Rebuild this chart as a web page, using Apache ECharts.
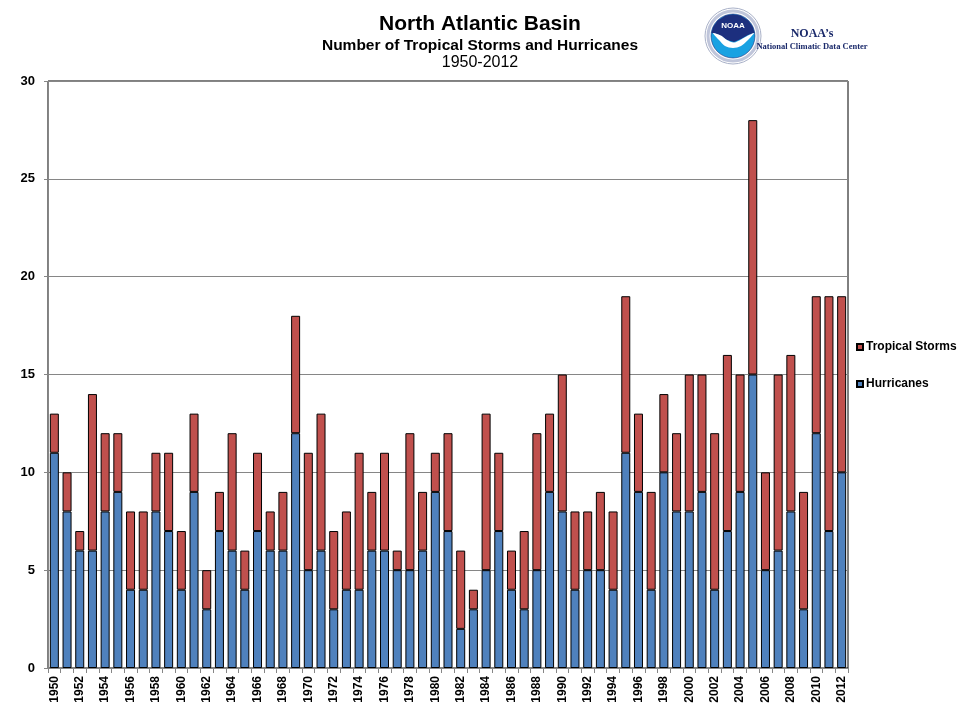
<!DOCTYPE html>
<html>
<head>
<meta charset="utf-8">
<title>North Atlantic Basin - Tropical Storms and Hurricanes</title>
<script src="https://cdn.jsdelivr.net/npm/echarts@6/dist/echarts.min.js"></script>
<style>
  html, body { margin: 0; padding: 0; background: #fff; }
  #chart { width: 960px; height: 720px; }
</style>
</head>
<body>
<div id="chart"></div>
<script>
// years on the x axis
var years = [
  '1950','1951','1952','1953','1954','1955','1956','1957','1958','1959',
  '1960','1961','1962','1963','1964','1965','1966','1967','1968','1969',
  '1970','1971','1972','1973','1974','1975','1976','1977','1978','1979',
  '1980','1981','1982','1983','1984','1985','1986','1987','1988','1989',
  '1990','1991','1992','1993','1994','1995','1996','1997','1998','1999',
  '2000','2001','2002','2003','2004','2005','2006','2007','2008','2009',
  '2010','2011','2012'
];

// blue segment (bottom of stack)
var hurricanes = [
  11, 8, 6, 6, 8, 9, 4, 4, 8, 7,
  4, 9, 3, 7, 6, 4, 7, 6, 6, 12,
  5, 6, 3, 4, 4, 6, 6, 5, 5, 6,
  9, 7, 2, 3, 5, 7, 4, 3, 5, 9,
  8, 4, 5, 5, 4, 11, 9, 4, 10, 8,
  8, 9, 4, 7, 9, 15, 5, 6, 8, 3,
  12, 7, 10
];

// red segment (stacked on top of hurricanes)
var tropicalStorms = [
  2, 2, 1, 8, 4, 3, 4, 4, 3, 4,
  3, 4, 2, 2, 6, 2, 4, 2, 3, 6,
  6, 7, 4, 4, 7, 3, 5, 1, 7, 3,
  2, 5, 4, 1, 8, 4, 2, 4, 7, 4,
  7, 4, 3, 4, 4, 8, 4, 5, 4, 4,
  7, 6, 8, 9, 6, 13, 5, 9, 8, 6,
  7, 12, 9
];

var yTicks = { min: 0, max: 30, interval: 5 };

var FONT = "'Liberation Sans', Arial, sans-serif";
var SERIF = "'Liberation Serif', 'Times New Roman', serif";
var AXIS_GRAY = '#868686';

// rough NOAA emblem, just decoration next to the title
function noaaLogo() {
  return {
    type: 'group',
    x: 733,
    y: 36,
    children: [
      { type: 'circle', shape: { r: 28 }, style: { fill: '#fff', stroke: '#a9b1c8', lineWidth: 1 } },
      { type: 'circle', shape: { r: 25 }, style: { fill: 'none', stroke: '#8b96bb', lineWidth: 3, opacity: 0.55 } },
      { type: 'circle', shape: { r: 22 }, style: { fill: '#19a2e2', stroke: '#1c2f7e', lineWidth: 0.6 } },
      {
        type: 'polygon',
        shape: {
          points: [
            [-21.6, -3], [-19.8, -9.2], [-15.4, -15.4], [-7.5, -20.5], [0, -21.8],
            [7.5, -20.5], [15.4, -15.4], [19.8, -9.2], [21.6, -3],
            [15, -1], [8, 3], [1, 6], [-6, 4], [-12, 0], [-17, -2]
          ]
        },
        style: { fill: '#1c2f7e' }
      },
      {
        type: 'polygon',
        shape: {
          points: [
            [-20, -3], [-12, -0.5], [-6, 4], [1, 6.5], [8, 3.5], [15, -0.5], [21, -3],
            [15, 4], [8, 10], [0, 12], [-8, 10], [-14, 4]
          ],
          smooth: 0.3
        },
        style: { fill: '#fff' }
      },
      {
        type: 'text',
        x: 0,
        y: -10,
        style: { text: 'NOAA', fill: '#fff', font: 'bold 8px ' + FONT, align: 'center', verticalAlign: 'middle' }
      }
    ]
  };
}

var chart = echarts.init(document.getElementById('chart'));

chart.setOption({
  backgroundColor: '#fff',
  animation: false,
  title: [
    {
      text: 'North Atlantic Basin',
      left: 'center',
      top: 9,
      textStyle: { fontFamily: FONT, fontSize: 21, fontWeight: 'bold', color: '#000' }
    },
    {
      text: 'Number of Tropical Storms and Hurricanes',
      left: 'center',
      top: 33,
      textStyle: { fontFamily: FONT, fontSize: 15.5, fontWeight: 'bold', color: '#000' }
    },
    {
      text: '1950-2012',
      left: 'center',
      top: 50,
      textStyle: { fontFamily: FONT, fontSize: 16, fontWeight: 'normal', color: '#000' }
    }
  ],
  legend: {
    orient: 'vertical',
    left: 851,
    top: 336,
    itemGap: 25,
    itemWidth: 6,
    itemHeight: 6,
    icon: 'rect',
    data: ['Tropical Storms', 'Hurricanes'],
    textStyle: { fontFamily: FONT, fontSize: 12, fontWeight: 'bold', color: '#000', padding: [0, 0, 0, -2] }
  },
  grid: {
    left: 48,
    right: 112,
    top: 81,
    bottom: 52,
    show: true,
    borderColor: '#000',
    borderWidth: 1
  },
  xAxis: {
    type: 'category',
    data: years,
    axisLine: { lineStyle: { color: AXIS_GRAY, width: 1 } },
    axisTick: { show: true, interval: 0, length: 5, lineStyle: { color: AXIS_GRAY } },
    axisLabel: {
      interval: 1,
      rotate: 90,
      margin: 8,
      fontFamily: FONT,
      fontSize: 12,
      fontWeight: 'bold',
      color: '#000'
    },
    splitLine: { show: false }
  },
  yAxis: {
    type: 'value',
    min: yTicks.min,
    max: yTicks.max,
    interval: yTicks.interval,
    axisLine: { show: true, lineStyle: { color: AXIS_GRAY, width: 1 } },
    axisTick: { show: true, length: 4, lineStyle: { color: AXIS_GRAY } },
    axisLabel: { margin: 13, fontFamily: FONT, fontSize: 13, fontWeight: 'bold', color: '#000' },
    splitLine: { show: true, lineStyle: { color: AXIS_GRAY, width: 1 } }
  },
  series: [
    {
      name: 'Hurricanes',
      type: 'bar',
      stack: 'storms',
      barWidth: 9,
      data: hurricanes,
      itemStyle: { color: '#4F81BD', borderColor: '#000', borderWidth: 1 }
    },
    {
      name: 'Tropical Storms',
      type: 'bar',
      stack: 'storms',
      barWidth: 9,
      data: tropicalStorms,
      itemStyle: { color: '#C0504D', borderColor: '#000', borderWidth: 1 }
    }
  ],
  graphic: [
    noaaLogo(),
    {
      type: 'text',
      x: 812,
      y: 34,
      style: { text: 'NOAA\u2019s', fill: '#1b2a6b', font: 'bold 12px ' + SERIF, align: 'center', verticalAlign: 'middle' }
    },
    {
      type: 'text',
      x: 812,
      y: 47,
      style: { text: 'National Climatic Data Center', fill: '#1b2a6b', font: 'bold 8.5px ' + SERIF, align: 'center', verticalAlign: 'middle' }
    }
  ]
});
</script>
</body>
</html>
